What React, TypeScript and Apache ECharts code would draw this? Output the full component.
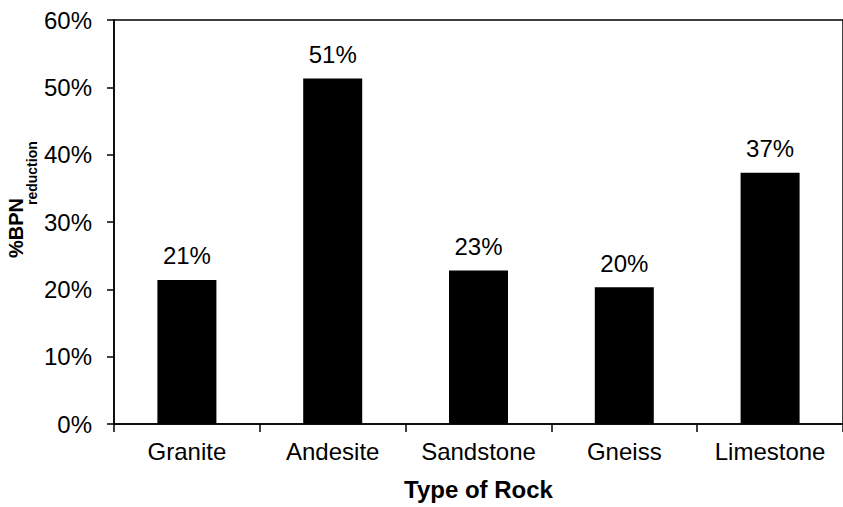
import React, { useEffect, useRef } from "react";
import * as echarts from "echarts";

const categories = ["Granite", "Andesite", "Sandstone", "Gneiss", "Limestone"];
const values = [21.4, 51.3, 22.8, 20.3, 37.3];
const yMin = 0;
const yMax = 60;
const yInterval = 10;
const yTitleMain = "%BPN";
const yTitleSub = "reduction";
const xTitle = "Type of Rock";

export default function App() {
  const ref = useRef<HTMLDivElement>(null);
  useEffect(() => {
    document.body.style.margin = "0";
    const chart = echarts.init(ref.current!, null, { renderer: "svg" });
    const font = "'Liberation Sans', Arial, sans-serif";
    chart.setOption({
      animation: false,
      backgroundColor: "#ffffff",
      grid: {
        left: 114,
        top: 20,
        width: 740,
        height: 404,
        show: true,
        borderColor: "#000",
        borderWidth: 1.5,
        containLabel: false,
      },
      graphic: [
        {
          type: "text",
          x: 16,
          y: 258,
          rotation: Math.PI / 2,
          style: {
            text: yTitleMain,
            fill: "#000",
            font: "bold 20px " + font,
            textAlign: "left",
            textVerticalAlign: "middle",
          },
        },
        {
          type: "text",
          x: 32,
          y: 205,
          rotation: Math.PI / 2,
          style: {
            text: yTitleSub,
            fill: "#000",
            font: "bold 14px " + font,
            textAlign: "left",
            textVerticalAlign: "middle",
          },
        },
      ],
      xAxis: {
        type: "category",
        data: categories,
        boundaryGap: true,
        axisLine: { lineStyle: { color: "#000", width: 1.5 } },
        axisTick: { show: true, interval: 0, length: 8, lineStyle: { color: "#000", width: 1.5 } },
        axisLabel: { color: "#000", fontSize: 24, fontFamily: font, margin: 15, interval: 0 },
        name: xTitle,
        nameLocation: "middle",
        nameGap: 53,
        nameTextStyle: { color: "#000", fontSize: 24, fontWeight: "bold", fontFamily: font },
      },
      yAxis: {
        type: "value",
        min: yMin,
        max: yMax,
        interval: yInterval,
        splitLine: { show: false },
        axisLine: { show: true, lineStyle: { color: "#000", width: 1.5 } },
        axisTick: { show: true, length: 7, lineStyle: { color: "#000", width: 1.5 } },
        axisLabel: {
          color: "#000",
          fontSize: 24,
          fontFamily: font,
          margin: 22,
          formatter: (v: number) => v + "%",
        },
      },
      series: [
        {
          type: "bar",
          data: values,
          barWidth: 59,
          itemStyle: { color: "#000" },
          label: {
            show: true,
            position: "top",
            distance: 12,
            color: "#000",
            fontSize: 24,
            fontFamily: font,
            formatter: (p: any) => Math.round(p.value) + "%",
          },
        },
      ],
    });
    return () => chart.dispose();
  }, []);
  return <div ref={ref} style={{ width: 843, height: 507 }} />;
}
